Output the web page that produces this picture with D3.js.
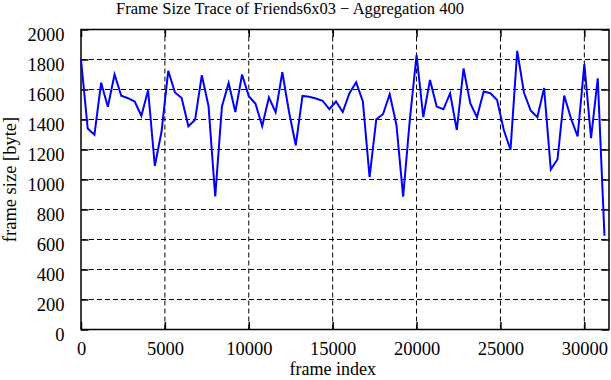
<!DOCTYPE html>
<html>
<head>
<meta charset="utf-8">
<script src="https://cdn.jsdelivr.net/npm/d3@7"></script>
<style>
  body { margin: 0; background: #fff; }
  text { font-family: "Liberation Serif", "Times New Roman", serif; fill: #000; }
</style>
</head>
<body>
<div id="my_dataviz"></div>
<script>
// mean frame size per block of 400 frames
const AGGREGATION = 400
const frameSize = [
  1800, 1340, 1298, 1645, 1485, 1700, 1558, 1542, 1520, 1425,
  1595, 1090, 1320, 1725, 1580, 1543, 1355, 1398, 1695, 1490,
  887, 1487, 1643, 1450, 1700, 1555, 1505, 1356, 1548, 1448,
  1715, 1450, 1228, 1557, 1551, 1540, 1525, 1469, 1520, 1450,
  1575, 1648, 1520, 1015, 1402, 1435, 1568, 1365, 886, 1400,
  1830, 1416, 1664, 1486, 1468, 1574, 1330, 1740, 1508, 1415,
  1587, 1575, 1530, 1330, 1198, 1858, 1580, 1460, 1415, 1610,
  1066, 1135, 1560, 1408, 1288, 1770, 1275, 1675, 625
]
const frameIndex = frameSize.map((d, i) => i * AGGREGATION)

const xTicks = [0, 5000, 10000, 15000, 20000, 25000, 30000]
const yTicks = [0, 200, 400, 600, 800, 1000, 1200, 1400, 1600, 1800, 2000]
const xMax = 31470

const titleText = "Frame Size Trace of Friends6x03 \u2212 Aggregation 400"
const xLabel = "frame index"
const yLabel = "frame size [byte]"

var width = 611
var height = 380
var margin = { top: 29.5, right: 2, bottom: 50.5, left: 81 }
var innerW = width - margin.left - margin.right
var innerH = height - margin.top - margin.bottom
const TICK = 7.5

var svg = d3.select("#my_dataviz")
  .append("svg")
  .attr("width", width)
  .attr("height", height)

var x = d3.scaleLinear().domain([0, xMax]).range([margin.left, margin.left + innerW])
var y = d3.scaleLinear().domain([0, 2000]).range([margin.top + innerH, margin.top])

// dashed grid
var grid = svg.append("g")
grid.selectAll(".gx")
  .data(xTicks.filter(d => d > 0))
  .enter().append("line")
  .attr("x1", d => x(d)).attr("x2", d => x(d))
  .attr("y1", y(0)).attr("y2", y(2000))
  .attr("stroke", "#000").attr("stroke-width", 1)
  .attr("stroke-dasharray", "5,3")
grid.selectAll(".gy")
  .data(yTicks.filter(d => d > 0 && d < 2000))
  .enter().append("line")
  .attr("x1", x(0)).attr("x2", x(xMax))
  .attr("y1", d => y(d)).attr("y2", d => y(d))
  .attr("stroke", "#000").attr("stroke-width", 1)
  .attr("stroke-dasharray", "5,3")

// axes, ticks pointing inward and mirrored
var xAxisB = svg.append("g")
  .attr("transform", "translate(0," + y(0) + ")")
  .call(d3.axisBottom(x).tickValues(xTicks).tickSize(-TICK).tickPadding(TICK + 5).tickFormat(d3.format("d")))
var xAxisT = svg.append("g")
  .attr("transform", "translate(0," + y(2000) + ")")
  .call(d3.axisTop(x).tickValues(xTicks).tickSize(-TICK).tickFormat(""))
var yAxisL = svg.append("g")
  .attr("transform", "translate(" + x(0) + ",0)")
  .call(d3.axisLeft(y).tickValues(yTicks).tickSize(-TICK).tickPadding(TICK + 9).tickFormat(d3.format("d")))
var yAxisR = svg.append("g")
  .attr("transform", "translate(" + x(xMax) + ",0)")
  .call(d3.axisRight(y).tickValues(yTicks).tickSize(-TICK).tickFormat(""))

svg.selectAll(".domain").remove()
svg.selectAll(".tick line").attr("stroke", "#000").attr("stroke-width", 1.5)
svg.selectAll(".tick text")
  .style("font-family", "Liberation Serif")
  .style("font-size", "18.5px")
  .attr("fill", "#000")
yAxisL.selectAll(".tick text").attr("dy", "0.6em")

// frame
svg.append("rect")
  .attr("x", x(0)).attr("y", y(2000))
  .attr("width", x(xMax) - x(0)).attr("height", y(0) - y(2000))
  .attr("fill", "none").attr("stroke", "#000").attr("stroke-width", 1.5)

// trace
var line = d3.line()
  .x((d, i) => x(frameIndex[i]))
  .y(d => y(d))

svg.append("path")
  .datum(frameSize)
  .attr("d", line)
  .attr("fill", "none")
  .attr("stroke", "#0000ff")
  .attr("stroke-width", 2)
  .attr("stroke-linejoin", "miter")

// texts
svg.append("text")
  .attr("x", 290).attr("y", 14)
  .attr("text-anchor", "middle")
  .style("font-size", "16.5px")
  .text(titleText)

svg.append("text")
  .attr("x", x(15000)).attr("y", 375)
  .attr("text-anchor", "middle")
  .style("font-size", "18px")
  .text(xLabel)

svg.append("text")
  .attr("transform", "translate(16," + (y(1000)) + ") rotate(-90)")
  .attr("text-anchor", "middle")
  .style("font-size", "18.5px")
  .text(yLabel)
</script>
</body>
</html>
